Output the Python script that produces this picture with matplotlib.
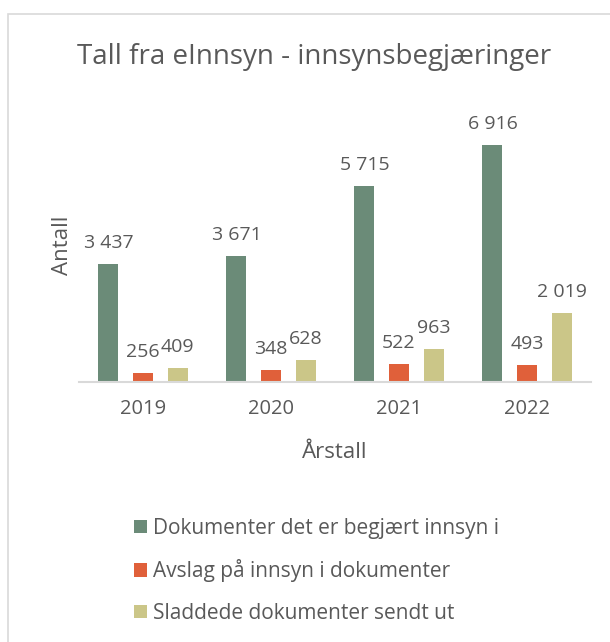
import matplotlib.pyplot as plt
from matplotlib.patches import Rectangle, Patch
import numpy as np

years = ["2019", "2020", "2021", "2022"]
begjaert = [3437, 3671, 5715, 6916]
avslag = [256, 348, 522, 493]
sladdede = [409, 628, 963, 2019]
series_names = ["Dokumenter det er begjært innsyn i",
                "Avslag på innsyn i dokumenter",
                "Sladdede dokumenter sendt ut"]
colors = ["#6B8B78", "#E0603A", "#CBC688"]

plt.rcParams['font.family'] = ['Open Sans', 'DejaVu Sans']
txt = "#595959"

fig = plt.figure(figsize=(6.10, 6.42), dpi=100)
W, H = 610, 642
# frame of the chart area (only top and left visible)
fig.add_artist(Rectangle((8 / W, -0.1), 1.2, 1.1 - 14 / H, transform=fig.transFigure,
                         fill=False, edgecolor="#D9D9D9", linewidth=1.2))

ax = fig.add_axes([79 / W, 1 - 382 / H, 512 / W, 0.4274])
x = np.arange(len(years))
w = 0.156
step = 0.27
for i, (vals, c) in enumerate(zip([begjaert, avslag, sladdede], colors)):
    bars = ax.bar(x + (i - 1) * step, vals, width=w, color=c, label=series_names[i])
    for b, v in zip(bars, vals):
        s = f"{v:,}".replace(",", " ")
        ax.annotate(s, (b.get_x() + b.get_width() / 2, v), xytext=(0, 12),
                    textcoords="offset pixels", ha="center", va="bottom",
                    fontsize=14, color=txt)

ax.set_xlim(-0.5, 3.5)
ax.set_ylim(0, 8000)
ax.set_xticks(x)
ax.set_xticklabels(years, fontsize=14.5, color=txt)
ax.tick_params(axis="x", length=0, pad=12)
ax.set_yticks([])
for sp in ["top", "right", "left"]:
    ax.spines[sp].set_visible(False)
ax.spines["bottom"].set_color("#D9D9D9")
ax.spines["bottom"].set_linewidth(1.5)

fig.text(335 / W, 1 - 453 / H, "Årstall", fontsize=16, color=txt, ha="center", va="center")
fig.text(62 / W, 1 - 245 / H, "Antall", fontsize=16, color=txt, ha="center", va="center",
         rotation=90)
fig.text(314 / W, 1 - 57 / H, "Tall fra eInnsyn - innsynsbegjæringer", fontsize=20,
         color=txt, ha="center", va="center")

handles = [Patch(facecolor=c) for c in colors]
fig.legend(handles, series_names, loc="upper left", bbox_to_anchor=(115 / W, 1 - 499 / H),
           frameon=False, fontsize=15, labelcolor=txt, handlelength=0.62, handleheight=0.62,
           handletextpad=0.3, labelspacing=0.98)

fig.savefig("out.png", dpi=100)
